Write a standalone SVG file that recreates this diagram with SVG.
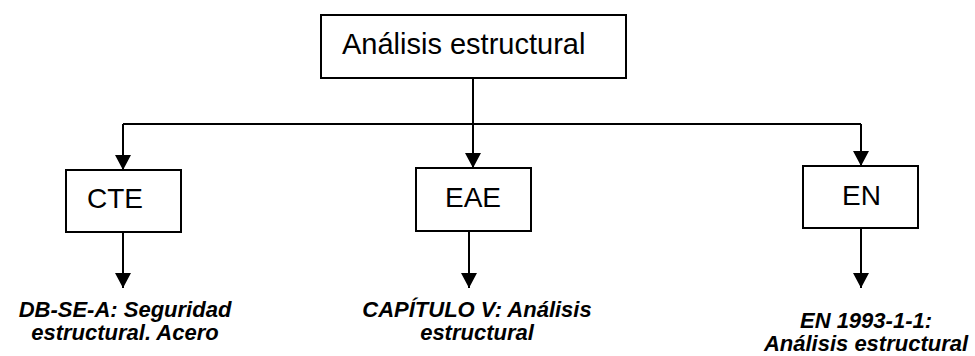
<svg xmlns="http://www.w3.org/2000/svg" width="975" height="356" viewBox="0 0 975 356">
<style>
.box{fill:#fff;stroke:#000;stroke-width:2}
.lbl{font-family:"Liberation Sans",Arial,sans-serif;font-size:28px;fill:#000}
.note{font-family:"Liberation Sans",Arial,sans-serif;font-size:22px;font-weight:bold;font-style:italic;fill:#000;text-anchor:middle}
.con{fill:none;stroke:#000;stroke-width:2}
</style>
<defs>
<marker id="arr" markerUnits="userSpaceOnUse" markerWidth="15" markerHeight="16" viewBox="0 0 15 16" refX="15" refY="8" orient="auto">
<path d="M0,0 L15,8 L0,16 Z" fill="#000"/>
</marker>
</defs>
<rect width="975" height="356" fill="#fff"/>
<g id="connectors">
<path class="con" d="M473,78 V124"/>
<path class="con" d="M123,124 H861"/>
<path class="con" d="M123,124 V170" marker-end="url(#arr)"/>
<path class="con" d="M473,124 V168" marker-end="url(#arr)"/>
<path class="con" d="M861,124 V166" marker-end="url(#arr)"/>
<path class="con" d="M123,232 V288" marker-end="url(#arr)"/>
<path class="con" d="M469,231 V288" marker-end="url(#arr)"/>
<path class="con" d="M861,228 V288" marker-end="url(#arr)"/>
</g>
<g id="root">
<rect class="box" x="321" y="15" width="305" height="63"/>
<text class="lbl" x="342" y="54" style="font-size:29px">Análisis estructural</text>
</g>
<g id="cte">
<rect class="box" x="66" y="170" width="115" height="62"/>
<text class="lbl" x="87" y="208">CTE</text>
</g>
<g id="eae">
<rect class="box" x="416" y="168" width="115" height="63"/>
<text class="lbl" x="445" y="207">EAE</text>
</g>
<g id="en">
<rect class="box" x="803" y="166" width="115" height="62"/>
<text class="lbl" x="842" y="205">EN</text>
</g>
<g id="cte-note">
<text class="note" x="125" y="317">DB-SE-A: Seguridad</text>
<text class="note" x="125" y="340">estructural. Acero</text>
</g>
<g id="eae-note">
<text class="note" x="477" y="317">CAPÍTULO V: Análisis</text>
<text class="note" x="477" y="340">estructural</text>
</g>
<g id="en-note">
<text class="note" x="866" y="328">EN 1993-1-1:</text>
<text class="note" x="866" y="351">Análisis estructural</text>
</g>
</svg>
